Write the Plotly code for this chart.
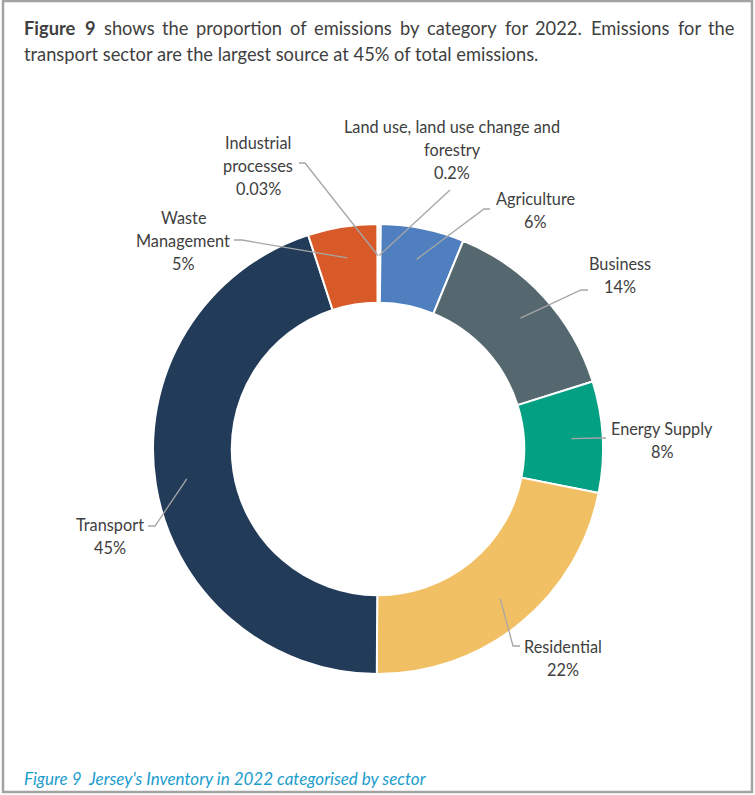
import math
import plotly.graph_objects as go

# ---- data ----
categories = ["Land use, land use change and forestry", "Agriculture", "Business",
              "Energy Supply", "Residential", "Transport", "Waste Management",
              "Industrial processes"]
shares = [0.2, 6, 14, 8, 22, 45, 5, 0.03]
share_labels = ["0.2%", "6%", "14%", "8%", "22%", "45%", "5%", "0.03%"]
label_lines = [["Land use, land use change and", "forestry"], ["Agriculture"], ["Business"],
               ["Energy Supply"], ["Residential"], ["Transport"], ["Waste", "Management"],
               ["Industrial", "processes"]]
heading_line1_words = ["Figure", "9", "shows", "the", "proportion", "of", "emissions",
                       "by", "category", "for", "2022.", "Emissions", "for", "the"]
heading_bold_words = 2
heading_line2 = "transport sector are the largest source at 45% of total emissions."
caption = "Figure 9  Jersey's Inventory in 2022 categorised by sector"

# ---- styles / layout ----
W, H = 755, 795
colors = ["#eeeeee", "#4f7fbf", "#56686f", "#04a083", "#f1c065", "#213b59", "#d85a28", "#d85a28"]
CX, CY, R = 378, 449, 225
HOLE = 0.65
FONT = "Lato"
TXT = "#404040"
LEAD = "#a6a6a6"
LABEL_SIZE = 16.3

label_pos = [(452, 127), (535, 199), (620, 264), (662, 428), (563, 646), (110, 524), (183, 218), (258, 143)]
leader_start = [[(450, 190)], [(490, 209), (484, 209)], [(588, 290), (581, 290)],
                [(606, 438), (599, 438)], [(520, 646), (513, 646)], [(148, 526), (155, 526)],
                [(234, 240), (242, 240)], [(299, 163), (305, 163)]]
LINE_STEP = 23

# approximate Lato advance widths (em) used to justify the first heading line
GLYPH = {'a': .50, 'b': .55, 'c': .45, 'd': .55, 'e': .51, 'f': .32, 'g': .49, 'h': .55, 'i': .24,
         'j': .24, 'k': .50, 'l': .24, 'm': .82, 'n': .55, 'o': .55, 'p': .55, 'q': .55, 'r': .36,
         's': .42, 't': .35, 'u': .55, 'v': .49, 'w': .75, 'x': .48, 'y': .49, 'z': .44, '.': .22,
         'E': .55, 'F': .52, '%': .75}


def word_width(w, size, bold=False):
    em = sum(GLYPH.get(c, .58) for c in w)
    return em * size * 1.04 * (1.06 if bold else 1.0)


def px(x):
    return x / W


def py(y):
    return 1 - y / H


fig = go.Figure()
fig.add_trace(go.Pie(
    labels=categories, values=shares, sort=False, direction="clockwise", rotation=0,
    hole=HOLE, textinfo="none", hoverinfo="label+percent",
    marker=dict(colors=colors, line=dict(color="white", width=2)),
    domain=dict(x=[px(CX - R), px(CX + R)], y=[py(CY + R), py(CY - R)]),
    showlegend=False,
))

shapes = []
annotations = []
total = sum(shares)
cum = 0.0
for i, v in enumerate(shares):
    mid = (cum + v / 2) / total * 2 * math.pi
    cum += v
    r = 0.86 * R
    ex, ey = CX + r * math.sin(mid), CY - r * math.cos(mid)
    pts = leader_start[i] + [(ex, ey)]
    path = "M " + " L ".join(f"{px(x):.5f},{py(y):.5f}" for x, y in pts)
    shapes.append(dict(type="path", xref="paper", yref="paper", path=path,
                       line=dict(color=LEAD, width=1.3), layer="above"))
    lx, ly = label_pos[i]
    lines = label_lines[i] + [share_labels[i]]
    for k, t in enumerate(lines):
        annotations.append(dict(x=px(lx), y=py(ly + k * LINE_STEP), xref="paper", yref="paper",
                                text=t, showarrow=False, xanchor="center", yanchor="middle",
                                font=dict(family=FONT, size=LABEL_SIZE, color=TXT)))

# border box
shapes.append(dict(type="rect", xref="paper", yref="paper", x0=px(3), x1=px(752), y0=py(792), y1=py(1),
                   line=dict(color="#a3a3a3", width=2.5), layer="below"))

# heading line 1, justified between x=22 and x=733
HEAD_SIZE = 18.3
est_w = [word_width(w, HEAD_SIZE, i < heading_bold_words) for i, w in enumerate(heading_line1_words)]
left, right = 22, 733
gap = (right - left - sum(est_w)) / (len(est_w) - 1)
xcur = left
for i, (wd, wv) in enumerate(zip(heading_line1_words, est_w)):
    txt = f"<b>{wd}</b>" if i < heading_bold_words else wd
    annotations.append(dict(x=px(xcur), y=py(28), xref="paper", yref="paper", xanchor="left",
                            yanchor="middle", showarrow=False, text=txt,
                            font=dict(family=FONT, size=HEAD_SIZE, color="#3f3f3f")))
    xcur += wv + gap
annotations.append(dict(x=px(22), y=py(54), xref="paper", yref="paper", xanchor="left", yanchor="middle",
                        showarrow=False, text=heading_line2,
                        font=dict(family=FONT, size=HEAD_SIZE, color="#3f3f3f")))
# caption
annotations.append(dict(x=px(22), y=py(778), xref="paper", yref="paper", xanchor="left", yanchor="middle",
                        showarrow=False, text=f"<i>{caption}</i>",
                        font=dict(family=FONT, size=17, color="#1a9dcc")))

fig.update_layout(width=W, height=H, margin=dict(l=0, r=0, t=0, b=0),
                  paper_bgcolor="white", plot_bgcolor="white",
                  shapes=shapes, annotations=annotations, showlegend=False)

fig.write_html("out.html")
